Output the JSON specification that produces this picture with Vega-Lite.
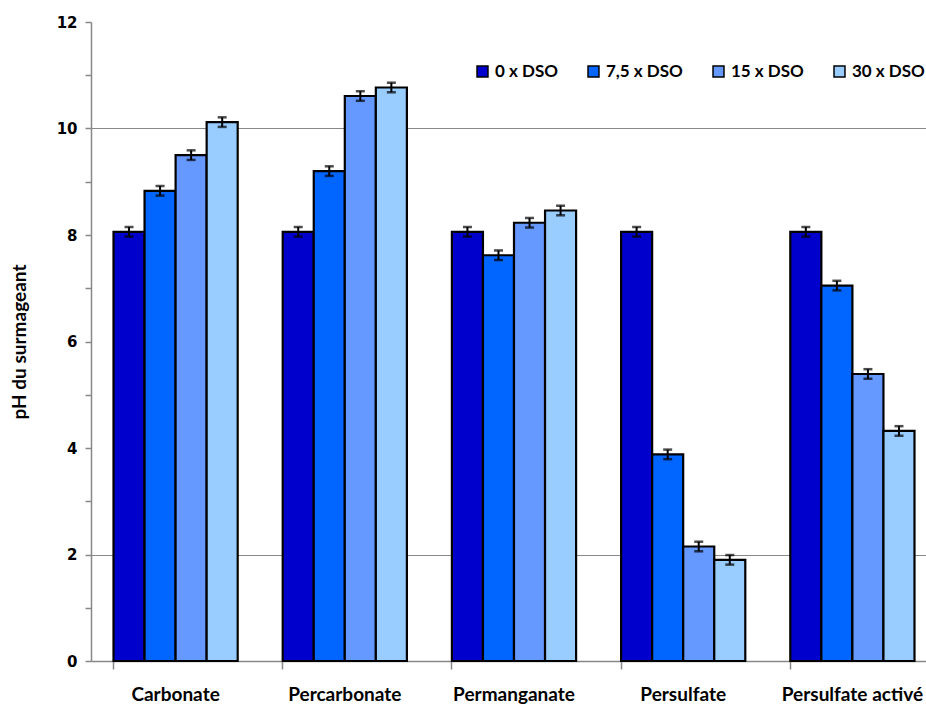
{
  "$schema": "https://vega.github.io/schema/vega-lite/v6.json",
  "autosize": "none",
  "width": 846,
  "height": 639,
  "padding": {"left": 91, "top": 22, "right": 0, "bottom": 43},
  "background": "white",
  "config": {"view": {"stroke": null}},
  "data": {
    "values": [
      {"produit": "Carbonate", "dose": "0 x DSO", "pH": 8.06, "err": 0.09},
      {"produit": "Carbonate", "dose": "7,5 x DSO", "pH": 8.83, "err": 0.09},
      {"produit": "Carbonate", "dose": "15 x DSO", "pH": 9.50, "err": 0.09},
      {"produit": "Carbonate", "dose": "30 x DSO", "pH": 10.12, "err": 0.09},
      {"produit": "Percarbonate", "dose": "0 x DSO", "pH": 8.06, "err": 0.09},
      {"produit": "Percarbonate", "dose": "7,5 x DSO", "pH": 9.20, "err": 0.09},
      {"produit": "Percarbonate", "dose": "15 x DSO", "pH": 10.61, "err": 0.09},
      {"produit": "Percarbonate", "dose": "30 x DSO", "pH": 10.77, "err": 0.09},
      {"produit": "Permanganate", "dose": "0 x DSO", "pH": 8.06, "err": 0.09},
      {"produit": "Permanganate", "dose": "7,5 x DSO", "pH": 7.62, "err": 0.09},
      {"produit": "Permanganate", "dose": "15 x DSO", "pH": 8.23, "err": 0.09},
      {"produit": "Permanganate", "dose": "30 x DSO", "pH": 8.46, "err": 0.09},
      {"produit": "Persulfate", "dose": "0 x DSO", "pH": 8.06, "err": 0.09},
      {"produit": "Persulfate", "dose": "7,5 x DSO", "pH": 3.88, "err": 0.09},
      {"produit": "Persulfate", "dose": "15 x DSO", "pH": 2.15, "err": 0.09},
      {"produit": "Persulfate", "dose": "30 x DSO", "pH": 1.90, "err": 0.09},
      {"produit": "Persulfate activé", "dose": "0 x DSO", "pH": 8.06, "err": 0.09},
      {"produit": "Persulfate activé", "dose": "7,5 x DSO", "pH": 7.05, "err": 0.09},
      {"produit": "Persulfate activé", "dose": "15 x DSO", "pH": 5.39, "err": 0.09},
      {"produit": "Persulfate activé", "dose": "30 x DSO", "pH": 4.32, "err": 0.09}
    ]
  },
  "encoding": {
    "x": {
      "field": "produit", "type": "nominal", "sort": null,
      "scale": {"paddingInner": 0.266, "paddingOuter": 0.133},
      "axis": {
        "title": null, "labelAngle": 0, "bandPosition": 0,
        "domainColor": "#888888", "domainWidth": 1.5,
        "tickColor": "#888888", "tickSize": 8, "tickWidth": 1.5,
        "labelFont": "Lato", "labelFontWeight": "bold", "labelFontSize": 19,
        "labelColor": "black", "labelPadding": 16
      }
    },
    "xOffset": {
      "field": "dose", "type": "nominal", "sort": ["0 x DSO", "7,5 x DSO", "15 x DSO", "30 x DSO"],
      "scale": {"paddingInner": 0, "paddingOuter": 0}
    }
  },
  "layer": [
    {
      "mark": {"type": "bar", "stroke": "black", "strokeWidth": 2.2},
      "encoding": {
        "y": {
          "field": "pH", "type": "quantitative",
          "title": "pH du surmageant",
          "scale": {"domain": [0, 12], "nice": false},
          "axis": {
            "title": "pH du surmageant",
            "titleFont": "Lato", "titleFontWeight": "bold", "titleFontSize": 19, "titleColor": "black",
            "titlePadding": 27,
            "values": [0,0.5,1,1.5,2,2.5,3,3.5,4,4.5,5,5.5,6,6.5,7,7.5,8,8.5,9,9.5,10,10.5,11,11.5,12],
            "labelExpr": "datum.value % 2 == 0 ? datum.value : ''",
            "labelFont": "DejaVu Sans", "labelFontWeight": "bold", "labelFontSize": 15, "labelColor": "black",
            "labelPadding": 8,
            "domainColor": "#888888", "domainWidth": 1.5,
            "tickColor": "#888888", "tickSize": 6, "tickWidth": 1.5,
            "grid": true, "gridColor": "#888888", "gridWidth": 1.2,
            "gridOpacity": {"condition": {"test": "datum.value == 2 || datum.value == 10", "value": 1}, "value": 0}
          }
        },
        "color": {
          "field": "dose", "type": "nominal",
          "sort": ["0 x DSO", "7,5 x DSO", "15 x DSO", "30 x DSO"],
          "scale": {"domain": ["0 x DSO", "7,5 x DSO", "15 x DSO", "30 x DSO"], "range": ["#0000CC", "#0066FF", "#6699FF", "#99CCFF"]},
          "legend": {
            "title": null, "orient": "none", "direction": "horizontal",
            "legendX": 383, "legendY": 41,
            "symbolType": "square", "symbolSize": 120, "symbolStrokeColor": "black", "symbolStrokeWidth": 1.5,
            "symbolOpacity": 1,
            "labelFont": "Lato", "labelFontWeight": "bold", "labelFontSize": 17, "labelColor": "black",
            "labelOffset": 4, "columnPadding": 27
          }
        }
      }
    },
    {
      "mark": {"type": "errorbar", "ticks": {"size": 9, "thickness": 2.5, "color": "black"}, "rule": {"strokeWidth": 2, "color": "black"}},
      "encoding": {
        "y": {"field": "pH", "type": "quantitative", "title": "pH du surmageant"},
        "yError": {"field": "err"}
      }
    }
  ]
}
